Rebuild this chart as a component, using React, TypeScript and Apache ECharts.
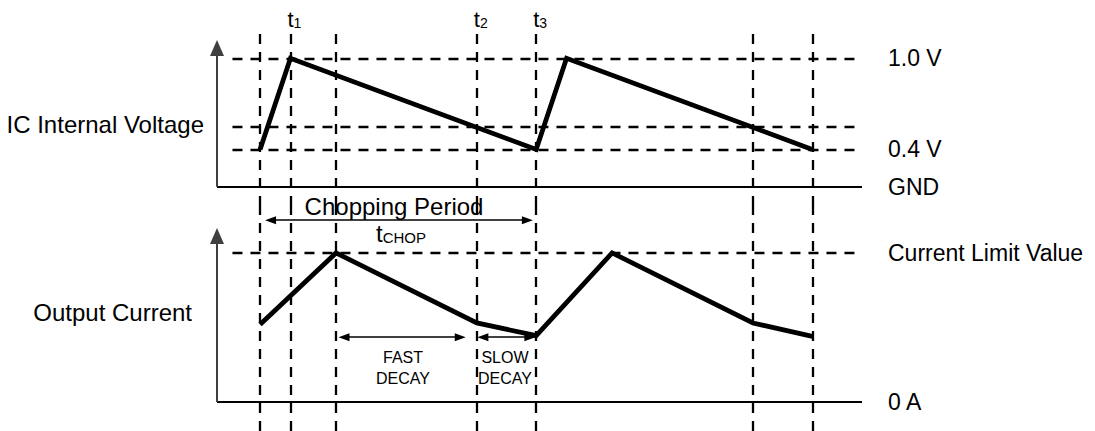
import React, { useEffect, useRef } from "react";
import * as echarts from "echarts";

// ---------------- data (time in arbitrary units, one chopping period = 10) ----------------
const guideTimes = [0, 1.1, 2.75, 7.85, 10, 17.85, 20];
const guideNames = ["", "1", "", "2", "3", "", ""];

const voltageTimes = [0, 1.1, 10, 11.1, 20];
const voltageValues = [0.29, 1.0, 0.29, 1.0, 0.29];
const voltageLevels = [1.0, 0.47, 0.29];
const voltageLevelLabels = ["1.0 V", "", "0.4 V"];
const groundLabel = "GND";

const currentTimes = [0, 2.75, 7.85, 10, 12.75, 17.85, 20];
const currentValues = [0.52, 1.0, 0.53, 0.445, 1.0, 0.53, 0.44];
const currentLevels = [1.0];
const currentLevelLabels = ["Current Limit Value"];
const zeroCurrentLabel = "0 A";

const chopArrow = [0.18, 9.88];
const chopArrowLevel = 1.22;
const fastArrow = [2.84, 7.45];
const slowArrow = [7.87, 9.97];
const decayArrowLevel = 0.435;

const xRange = [-1.56, 21.8];
const voltageRange = [-0.15, 1.22];
const currentRange = [-0.195, 1.315];
const levelStart = -1.0;
const voltAxisTop = 1.08;
const currAxisTop = 1.114;

// ---------------- layout / style ----------------
const W = 1095;
const H = 431;
const GL = 217;
const GR = 233;
const FONT = "'Liberation Sans', Arial, Helvetica, sans-serif";
const DASH = [10, 8];
const INK = "#000";
const AXIS = "#404040";
const ARROW = [8, 11];

export default function App() {
  const ref = useRef<HTMLDivElement>(null);

  useEffect(() => {
    if (!ref.current) return;
    const chart = echarts.init(ref.current, null, { renderer: "svg" });
    const pxPerX = (W - GL - GR) / (xRange[1] - xRange[0]);
    const inset = ARROW[1] / 2 / pxPerX;

    const tLabel = (name: string) => ({
      show: !!name,
      position: "end",
      distance: 0,
      offset: [4, 0],
      formatter: `{t|t}{s|${name}}`,
      rich: {
        t: { fontSize: 22, fontFamily: FONT, color: INK, verticalAlign: "bottom" },
        s: { fontSize: 14, fontFamily: FONT, color: INK, verticalAlign: "bottom" },
      },
    });

    const rightLabel = (text: string) => ({
      show: !!text,
      position: "end",
      distance: 26,
      formatter: text,
      fontSize: 23,
      fontFamily: FONT,
      color: INK,
    });

    const verticalGuides = (yr: number[], labelled: boolean) =>
      guideTimes.map((t, i) => {
        const lab = labelled ? tLabel(guideNames[i]) : { show: false };
        return [
          { coord: [t, yr[0]], label: lab },
          { coord: [t, yr[1]], label: lab },
        ];
      });

    const levelLines = (levels: number[], labels: string[]) =>
      levels.map((v, i) => [
        { coord: [levelStart, v], label: rightLabel(labels[i]) },
        { coord: [xRange[1], v], label: rightLabel(labels[i]) },
      ]);

    const helper = (grid: number, markLine: any) => ({
      type: "line",
      xAxisIndex: grid,
      yAxisIndex: grid,
      data: [],
      silent: true,
      markLine: { silent: true, animation: false, label: { show: false }, ...markLine },
    });

    const dashStyle = { type: DASH, width: 2.3, color: INK };
    const solidStyle = { type: "solid", width: 2, color: INK };
    const axisStyle = { type: "solid", width: 2, color: AXIS };
    const arrowStyle = { type: "solid", width: 1.6, color: "#000" };

    const option: any = {
      animation: false,
      grid: [
        { left: GL, right: GR, top: 30, height: 176 },
        { left: GL, right: GR, top: 206, bottom: 0 },
      ],
      xAxis: [0, 1].map((g) => ({
        type: "value",
        gridIndex: g,
        min: xRange[0],
        max: xRange[1],
        show: false,
      })),
      yAxis: [
        { type: "value", gridIndex: 0, min: voltageRange[0], max: voltageRange[1], show: false },
        { type: "value", gridIndex: 1, min: currentRange[0], max: currentRange[1], show: false },
      ],
      series: [
        // dashed guides, top panel
        helper(0, {
          symbol: ["none", "none"],
          lineStyle: dashStyle,
          data: [...verticalGuides(voltageRange, true), ...levelLines(voltageLevels, voltageLevelLabels)],
        }),
        // dashed guides, bottom panel
        helper(1, {
          symbol: ["none", "none"],
          lineStyle: dashStyle,
          data: [...verticalGuides(currentRange, false), ...levelLines(currentLevels, currentLevelLabels)],
        }),
        // ground / zero lines
        helper(0, {
          symbol: ["none", "none"],
          lineStyle: solidStyle,
          data: [[
            { coord: [xRange[0], 0], label: rightLabel(groundLabel) },
            { coord: [xRange[1], 0], label: rightLabel(groundLabel) },
          ]],
        }),
        helper(1, {
          symbol: ["none", "none"],
          lineStyle: solidStyle,
          data: [[
            { coord: [xRange[0], 0], label: rightLabel(zeroCurrentLabel) },
            { coord: [xRange[1], 0], label: rightLabel(zeroCurrentLabel) },
          ]],
        }),
        // vertical axes with arrow heads
        helper(0, {
          symbol: ["none", "triangle"],
          symbolSize: [14, 16],
          lineStyle: axisStyle,
          itemStyle: { color: AXIS },
          data: [[{ coord: [xRange[0], 0] }, { coord: [xRange[0], voltAxisTop] }]],
        }),
        helper(1, {
          symbol: ["none", "triangle"],
          symbolSize: [14, 16],
          lineStyle: axisStyle,
          itemStyle: { color: AXIS },
          data: [[{ coord: [xRange[0], 0] }, { coord: [xRange[0], currAxisTop] }]],
        }),
        // double-headed span arrows
        helper(1, {
          symbol: ["triangle", "triangle"],
          symbolSize: ARROW,
          lineStyle: arrowStyle,
          itemStyle: { color: "#000" },
          data: [
            [{ coord: [chopArrow[0] + inset, chopArrowLevel] }, { coord: [chopArrow[1] - inset, chopArrowLevel] }],
            [{ coord: [fastArrow[0] + inset, decayArrowLevel] }, { coord: [fastArrow[1] - inset, decayArrowLevel] }],
            [{ coord: [slowArrow[0] + inset, decayArrowLevel] }, { coord: [slowArrow[1] - inset, decayArrowLevel] }],
          ],
        }),
        // waveforms
        {
          name: "IC Internal Voltage",
          type: "line",
          xAxisIndex: 0,
          yAxisIndex: 0,
          data: voltageTimes.map((t, i) => [t, voltageValues[i]]),
          symbol: "none",
          silent: true,
          z: 5,
          lineStyle: { color: "#000", width: 4.8, join: "miter", miterLimit: 10 },
        },
        {
          name: "Output Current",
          type: "line",
          xAxisIndex: 1,
          yAxisIndex: 1,
          data: currentTimes.map((t, i) => [t, currentValues[i]]),
          symbol: "none",
          silent: true,
          z: 5,
          lineStyle: { color: "#000", width: 4.8, join: "miter", miterLimit: 10 },
        },
      ],
      graphic: [
        {
          type: "text",
          x: 204,
          y: 124,
          style: { text: "IC Internal Voltage", font: `24px ${FONT}`, fill: INK, align: "right", verticalAlign: "middle" },
        },
        {
          type: "text",
          x: 192,
          y: 312,
          style: { text: "Output Current", font: `24px ${FONT}`, fill: INK, align: "right", verticalAlign: "middle" },
        },
        {
          type: "text",
          x: 394,
          y: 206.5,
          style: { text: "Chopping Period", font: `24px ${FONT}`, fill: INK, align: "center", verticalAlign: "middle" },
        },
        {
          type: "text",
          x: 401,
          y: 245,
          style: {
            text: "{t|t}{s|CHOP}",
            align: "center",
            verticalAlign: "bottom",
            rich: {
              t: { fontSize: 24, fontFamily: FONT, fill: INK, verticalAlign: "bottom" },
              s: { fontSize: 15, fontFamily: FONT, fill: INK, verticalAlign: "bottom" },
            },
          },
        },
        {
          type: "text",
          x: 403,
          y: 367.5,
          style: { text: "FAST\nDECAY", font: `16px ${FONT}`, fill: INK, align: "center", verticalAlign: "middle", lineHeight: 21 },
        },
        {
          type: "text",
          x: 505,
          y: 367.5,
          style: { text: "SLOW\nDECAY", font: `16px ${FONT}`, fill: INK, align: "center", verticalAlign: "middle", lineHeight: 21 },
        },
      ],
    };

    chart.setOption(option);
    return () => chart.dispose();
  }, []);

  return (
    <div
      ref={ref}
      style={{ position: "absolute", left: 0, top: 0, width: W, height: H, background: "#fff" }}
    />
  );
}
